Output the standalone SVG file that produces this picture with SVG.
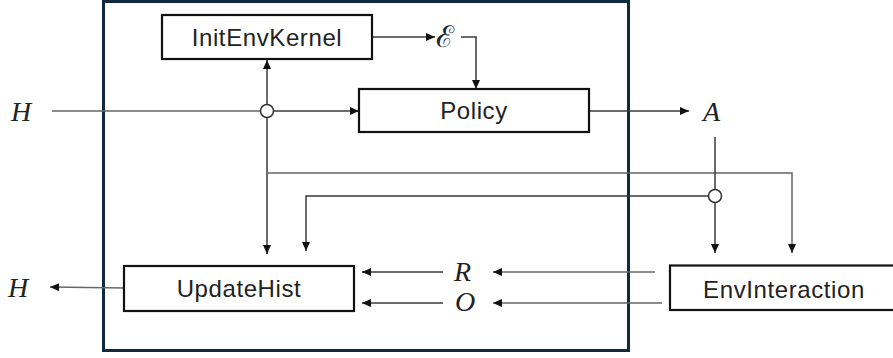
<svg xmlns="http://www.w3.org/2000/svg" width="893" height="358" viewBox="0 0 893 358">
<defs>
<style>
.box{fill:#fff;stroke:#111;stroke-width:2.2}
.lbl{font-family:"Liberation Sans",Arial,sans-serif;font-size:24px;letter-spacing:0.6px;fill:#222;text-anchor:middle}
.math{font-family:"Liberation Serif","Times New Roman",serif;font-style:italic;font-size:28px;fill:#222}
.c{fill:none;stroke:#3a3a3a;stroke-width:1.5}
.g{fill:none;stroke:#666;stroke-width:1.5}
.a{marker-end:url(#ah)}
.j{fill:#fff;stroke:#333;stroke-width:1.5}
</style>
<marker id="ah" markerUnits="userSpaceOnUse" markerWidth="10" markerHeight="8" refX="9" refY="4" orient="auto">
<path d="M0,0 L9,4 L0,8 z" fill="#111"/>
</marker>
</defs>
<rect width="893" height="358" fill="#fff"/>
<rect id="frame" x="103.5" y="1.5" width="525" height="349" fill="none" stroke="#0f2b3d" stroke-width="3"/>
<g id="connectors">
<line class="g" x1="52" y1="111" x2="260.5" y2="111"/>
<line class="c a" x1="273.5" y1="111" x2="359" y2="111"/>
<line class="c a" x1="267" y1="104.5" x2="267" y2="60"/>
<line class="c a" x1="372" y1="37" x2="435" y2="37"/>
<path class="c a" d="M461,37 H476 V89"/>
<line class="c a" x1="267" y1="117.5" x2="267" y2="254"/>
<path class="g a" d="M267,173 H792 V253"/>
<line class="c a" x1="589" y1="111" x2="689" y2="111"/>
<line class="c" x1="715" y1="137" x2="715" y2="189.5"/>
<line class="c a" x1="715" y1="202.5" x2="715" y2="253"/>
<path class="c a" d="M708.5,196 H306 V251"/>
<line class="g a" x1="124" y1="288" x2="50" y2="287"/>
<line class="c a" x1="443" y1="272" x2="362" y2="272"/>
<line class="c a" x1="443" y1="303" x2="362" y2="303"/>
<line class="g a" x1="655" y1="272" x2="493" y2="272"/>
<line class="g a" x1="662" y1="303" x2="493" y2="303"/>
<circle class="j" cx="267" cy="111" r="6.5"/>
<circle class="j" cx="715" cy="196" r="6.5"/>
</g>
<g id="InitEnvKernel">
<rect class="box" x="162" y="15" width="210" height="44"/>
<text class="lbl" x="267" y="46">InitEnvKernel</text>
</g>
<g id="Policy">
<rect class="box" x="359" y="89" width="230" height="43"/>
<text class="lbl" x="474" y="119">Policy</text>
</g>
<g id="UpdateHist">
<rect class="box" x="124" y="266" width="230" height="45"/>
<text class="lbl" x="239" y="297">UpdateHist</text>
</g>
<g id="EnvInteraction">
<rect class="box" x="670" y="265.5" width="240" height="44.5"/>
<text class="lbl" x="784" y="298">EnvInteraction</text>
</g>
<g id="labels">
<text class="math" x="11" y="121">H</text>
<text class="math" x="8" y="297">H</text>
<text class="math" x="703" y="121">A</text>
<text class="math" x="454" y="281">R</text>
<text class="math" x="455" y="311">O</text>
<text x="436" y="47" font-family="DejaVu Serif,serif" font-size="30" fill="#222">ℰ</text>
</g>
</svg>
